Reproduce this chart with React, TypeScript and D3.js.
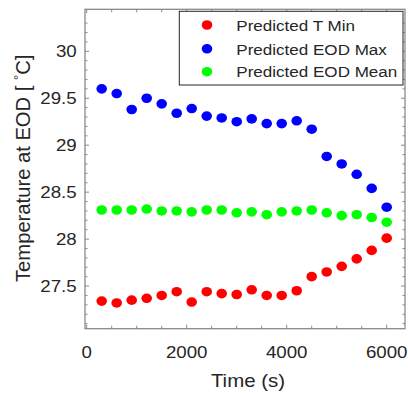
import React from "react";
import * as d3 from "d3";

const times = [300, 600, 900, 1200, 1500, 1800, 2100, 2400, 2700, 3000, 3300, 3600, 3900, 4200, 4500, 4800, 5100, 5400, 5700, 6000];
const tMin = [27.34, 27.32, 27.35, 27.37, 27.40, 27.44, 27.33, 27.44, 27.42, 27.41, 27.46, 27.40, 27.40, 27.45, 27.60, 27.65, 27.71, 27.79, 27.88, 28.01];
const eodMax = [29.60, 29.55, 29.38, 29.50, 29.44, 29.34, 29.39, 29.31, 29.29, 29.25, 29.28, 29.23, 29.23, 29.26, 29.17, 28.88, 28.80, 28.69, 28.54, 28.34];
const eodMean = [28.31, 28.31, 28.31, 28.32, 28.30, 28.30, 28.29, 28.31, 28.31, 28.28, 28.29, 28.26, 28.29, 28.30, 28.31, 28.28, 28.25, 28.26, 28.23, 28.18];

const xTicks = [0, 2000, 4000, 6000];
const yTicks = [27.5, 28, 28.5, 29, 29.5, 30];
const seriesNames = ["Predicted T Min", "Predicted EOD Max", "Predicted EOD Mean"];
const seriesColors = ["#ff0000", "#0000ff", "#00ff00"];

const W = 408, H = 393;
const L = 85, R = 405, T = 9.3, B = 328.7;
const SX = 1.1; // horizontal text stretch

export default function App() {
  const x = d3.scaleLinear().domain([-34, 6366]).range([L, R]);
  const y = d3.scaleLinear().domain([27.046, 30.447]).range([B, T]);
  const series = [tMin, eodMax, eodMean];
  const minorX = d3.range(0, 6001, 500);
  const minorY = d3.range(271, 304, 1).map((v) => v / 10);
  const frame = "#8a8a8a";
  const textCol = "#262626";
  const font = "'Liberation Sans', Arial, sans-serif";

  const stretchText = (tx: number, ty: number, content: React.ReactNode, props: any) => (
    <g transform={`translate(${tx},${ty}) scale(${SX},1)`}>
      <text x={0} y={0} {...props}>{content}</text>
    </g>
  );

  const legendRows = [25, 48.8, 71.7];

  return (
    <svg width={W} height={H} style={{ position: "absolute", left: 0, top: 0 }} fontFamily={font}>
      <rect x={0} y={0} width={W} height={H} fill="#fff" />
      {/* data */}
      {series.map((vals, si) => (
        <g key={si}>
          {vals.map((v, i) => (
            <ellipse key={i} cx={x(times[i])} cy={y(v)} rx={5.3} ry={4.8} fill={seriesColors[si]} />
          ))}
        </g>
      ))}
      {/* frame */}
      <rect x={L} y={T} width={R - L} height={B - T} fill="none" stroke={frame} strokeWidth={1.3} />
      {/* x ticks */}
      {minorX.map((v) => (
        <g key={"xt" + v}>
          <line x1={x(v)} x2={x(v)} y1={B} y2={B - (v % 2000 === 0 ? 4 : 3)} stroke={frame} />
          <line x1={x(v)} x2={x(v)} y1={T} y2={T + (v % 2000 === 0 ? 4 : 3)} stroke={frame} />
        </g>
      ))}
      {minorY.map((v) => {
        const major = Math.abs(v * 2 - Math.round(v * 2)) < 1e-6;
        return (
          <g key={"yt" + v}>
            <line x1={L} x2={L + (major ? 4 : 2.5)} y1={y(v)} y2={y(v)} stroke={frame} />
            <line x1={R} x2={R - (major ? 4 : 2.5)} y1={y(v)} y2={y(v)} stroke={frame} />
          </g>
        );
      })}
      {/* tick labels */}
      {xTicks.map((v) =>
        <g key={"xl" + v}>{stretchText(x(v), 358.3, String(v), { textAnchor: "middle", fontSize: 17, fill: textCol })}</g>
      )}
      {yTicks.map((v) =>
        <g key={"yl" + v}>{stretchText(76.7, y(v), String(v), { textAnchor: "end", fontSize: 17, fill: textCol, dominantBaseline: "central" })}</g>
      )}
      {/* axis labels */}
      {stretchText((L + R) / 2 + 3, 387, "Time (s)", { textAnchor: "middle", fontSize: 18.6, fill: textCol })}
      <text transform={`translate(29.5,168.3) rotate(-90)`} textAnchor="middle" fontSize={20.2} fill={textCol}>
        Temperature at EOD [ <tspan dy={-7} fontSize={13}>°</tspan><tspan dy={7}>C]</tspan>
      </text>
      {/* legend */}
      <rect x={179.3} y={11.3} width={223.7} height={73.7} fill="#fff" stroke={textCol} strokeWidth={1} />
      {seriesNames.map((n, i) => (
        <g key={n}>
          <ellipse cx={207} cy={legendRows[i]} rx={5.3} ry={4.8} fill={seriesColors[i]} />
          {stretchText(236.3, legendRows[i], n, { fontSize: 15.5, fill: textCol, dominantBaseline: "central" })}
        </g>
      ))}
    </svg>
  );
}
